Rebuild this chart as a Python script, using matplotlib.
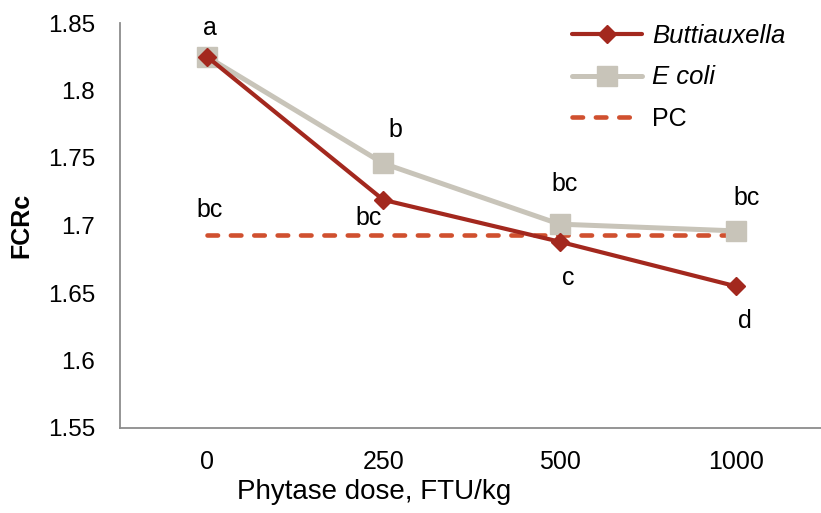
import matplotlib
matplotlib.use("Agg")
import matplotlib.pyplot as plt

doses = ["0", "250", "500", "1000"]
buttiauxella = [1.825, 1.719, 1.688, 1.655]
ecoli = [1.825, 1.746, 1.701, 1.696]
pc = [1.693, 1.693, 1.693, 1.693]
yticks = [1.55, 1.6, 1.65, 1.7, 1.75, 1.8, 1.85]
ytick_labels = ["1.55", "1.6", "1.65", "1.7", "1.75", "1.8", "1.85"]

letters_e = ["a", "b", "bc", "bc"]
letters_b = ["", "bc", "c", "d"]
letter_pc = "bc"

plt.rcParams['font.family'] = ['Liberation Sans', 'DejaVu Sans']

W, H = 821, 513
fig = plt.figure(figsize=(W / 100, H / 100), dpi=100)
ax = fig.add_axes([120 / W, 1 - 428 / H, 705 / W, 405 / H])
x = list(range(len(doses)))

ax.plot(x, pc, linestyle=(0, (2.3, 2.8)), color="#D0502F", lw=3.3,
        dash_capstyle="round", label="PC", zorder=2)
ax.plot(x, ecoli, color="#C8C4B9", lw=3.6, marker="s", markersize=14.5,
        solid_capstyle="round", label="E coli", zorder=3)
ax.plot(x, buttiauxella, color="#A3281E", lw=3.0, marker="D", markersize=9.5,
        solid_capstyle="round", label="Buttiauxella", zorder=4)

ax.set_xlim(-0.494, 3.506)
ax.set_ylim(1.55, 1.85)
ax.set_xticks(x)
ax.set_xticklabels(doses)
ax.set_yticks(yticks)
ax.set_yticklabels(ytick_labels)
ax.tick_params(axis="both", length=0, colors="black")
ax.tick_params(axis="x", pad=16, labelsize=18)
ax.tick_params(axis="y", pad=18, labelsize=17.5)
for s in ["top", "right"]:
    ax.spines[s].set_visible(False)
for s in ["left", "bottom"]:
    ax.spines[s].set_color("#8C8C8C")
    ax.spines[s].set_linewidth(1.3)

ax.set_xlabel("Phytase dose, FTU/kg", fontsize=20)
ax.xaxis.label.set_verticalalignment("center")
ax.xaxis.set_label_coords((374 - 120) / 705, -(492 - 428) / 405)
ax.set_ylabel("FCRc", fontsize=18, fontweight="bold")
ax.yaxis.label.set_verticalalignment("center")
ax.yaxis.set_label_coords(-(120 - 21) / 705, 0.5)

fs = 18
e_off = [(3, 29), (12, 33), (5, 40), (11, 33)]
for i, (t, (dx, dy)) in enumerate(zip(letters_e, e_off)):
    ax.annotate(t, (x[i], ecoli[i]), xytext=(dx, dy), textcoords="offset pixels",
                ha="center", va="center", fontsize=fs)
b_off = [(0, 0), (-15, -18), (9, -36), (9, -35)]
for i, (t, (dx, dy)) in enumerate(zip(letters_b, b_off)):
    if t:
        ax.annotate(t, (x[i], buttiauxella[i]), xytext=(dx, dy), textcoords="offset pixels",
                    ha="center", va="center", fontsize=fs)
ax.annotate(letter_pc, (x[0], pc[0]), xytext=(3, 25), textcoords="offset pixels",
            ha="center", va="center", fontsize=fs)

h, l = ax.get_legend_handles_labels()
order = [2, 1, 0]
leg = fig.legend([h[i] for i in order], [l[i] for i in order], loc="upper left",
                 bbox_to_anchor=(572 / W, 1 - 24 / H), frameon=False, fontsize=18,
                 handlelength=2.8, labelspacing=0.7, handletextpad=0.4,
                 borderpad=0, borderaxespad=0)
for t in leg.get_texts():
    if t.get_text() in ("Buttiauxella", "E coli"):
        t.set_fontstyle("italic")
        t.set_fontsize(18.5)

fig.savefig("out.png", dpi=100)
